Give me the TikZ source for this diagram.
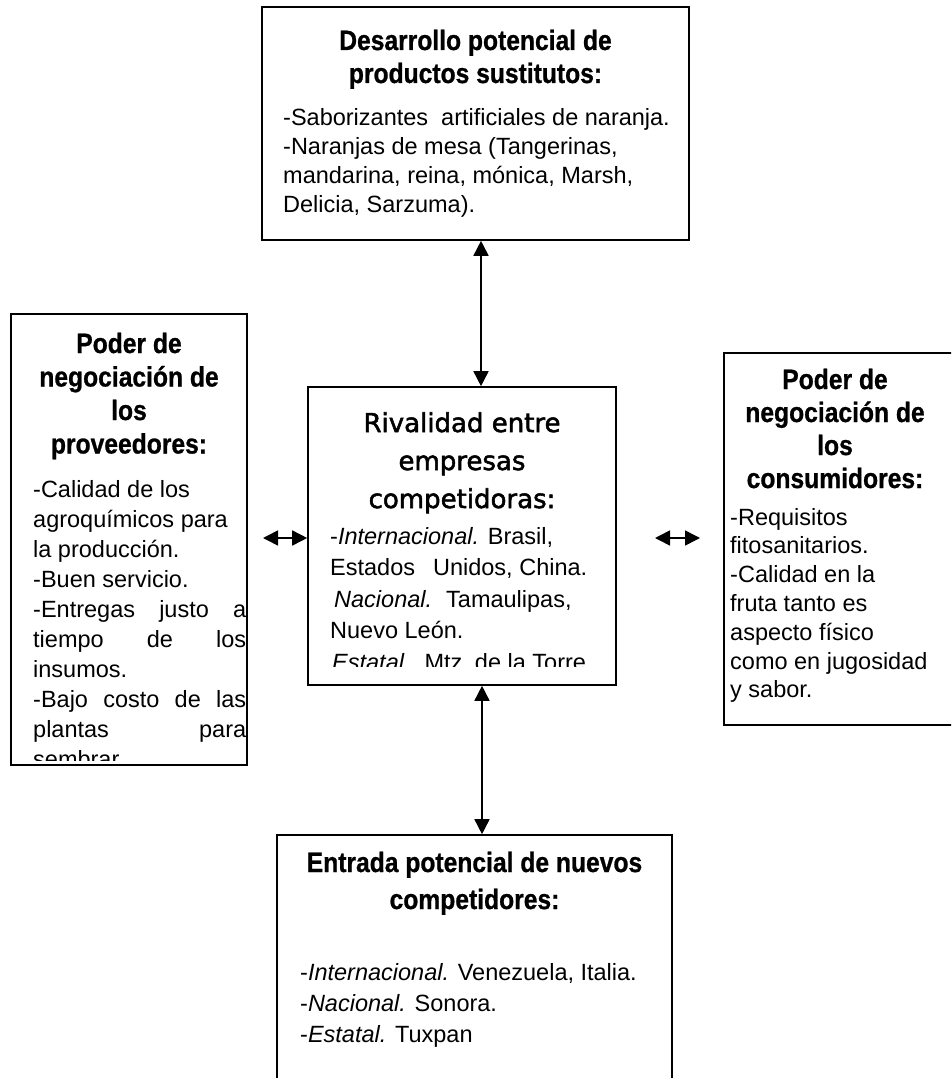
\documentclass[tikz,border=0pt]{standalone}
\usepackage{fontspec}
\setmainfont{Liberation Sans}
\newfontfamily\midfont[FakeBold=2]{DejaVu Sans}
\newfontfamily\titlefont[FakeStretch=0.88, FakeBold=0.8, UprightFont={* Bold}]{Liberation Sans}
\usetikzlibrary{arrows.meta}
\tikzset{
  frame/.style={draw, line width=1.6pt, inner sep=0pt, fill=white},
  arr/.style={line width=1.6pt, {Triangle[length=15pt,width=15pt]}-{Triangle[length=15pt,width=15pt]}},
  txt/.style={inner sep=0pt},
}
\newcommand{\boxtitle}[3]{\parbox[t]{#1}{\centering\titlefont\fontsize{28}{#2}\selectfont #3}}
\newcommand{\bodytext}[3]{\parbox[t]{#1}{\raggedright\fontsize{23.5}{#2}\selectfont #3}}
\begin{document}
\begin{tikzpicture}[x=1pt,y=-1pt]
\useasboundingbox (0,0) rectangle (951,1078);
\clip (0,0) rectangle (951,1078);
% frames
\node[frame, minimum width=427pt, minimum height=233pt] (top) at (475.5,123.5) {};
\node[frame, minimum width=236pt, minimum height=451pt] (lft) at (129,539.5) {};
\node[frame, minimum width=308pt, minimum height=298pt] (mid) at (462,536) {};
\node[frame, minimum width=236pt, minimum height=372pt] (rgt) at (842,539) {};
\node[frame, minimum width=395pt, minimum height=255pt] (bot) at (474.5,962.5) {};
% top box text
\node[txt, anchor=base] (toptitle) at (475.5,50) {\boxtitle{420pt}{33}{Desarrollo potencial de\\productos sustitutos:}};
\node[txt, anchor=base west] (topbody) at (283,126) {\bodytext{400pt}{29}{-Saborizantes\ \ artificiales de naranja.\\-Naranjas de mesa (Tangerinas,\\mandarina, reina, mónica, Marsh,\\Delicia, Sarzuma).}};
% left box text
\node[txt, anchor=base] (lefttitle) at (129,353) {\boxtitle{230pt}{33.5}{Poder de\\negociación de\\los\\proveedores:}};
\begin{scope}
\clip (11,300) rectangle (247,760);
\node[txt, anchor=base west] (leftbody) at (33,497) {\bodytext{213pt}{30}{-Calidad de los\\agroquímicos para\\la producción.\\-Buen servicio.\\\makebox[\linewidth][s]{-Entregas justo a}\\\makebox[\linewidth][s]{tiempo de los}\\insumos.\\\makebox[\linewidth][s]{-Bajo costo de las}\\\makebox[\linewidth][s]{plantas para}\\sembrar.}};
\end{scope}
% center box text
\node[txt, anchor=base] (midtitle) at (462,432) {\parbox[t]{300pt}{\centering\midfont\fontsize{26}{38}\selectfont Rivalidad entre\\empresas\\competidoras:}};
\begin{scope}
\clip (308,387) rectangle (616,666);
\node[txt, anchor=base west] (midbody) at (330,544) {\bodytext{270pt}{31.5}{-\textit{Internacional.} Brasil,\\Estados\hspace{18pt}Unidos, China.\\\hspace*{4pt}\textit{Nacional.}\hspace{14pt}Tamaulipas,\\Nuevo León.\\\hspace*{2pt}\textit{Estatal.}\hspace{14pt}Mtz.\hspace{6pt}de la Torre}};
\end{scope}
% right box text
\node[txt, anchor=base] (righttitle) at (835,389) {\boxtitle{220pt}{33}{Poder de\\negociación de\\los\\consumidores:}};
\node[txt, anchor=base west] (rightbody) at (730,525) {\bodytext{215pt}{28.8}{-Requisitos\\fitosanitarios.\\-Calidad en la\\fruta tanto es\\aspecto físico\\como en jugosidad\\y sabor.}};
% bottom box text
\node[txt, anchor=base] (bottitle) at (474.5,872) {\boxtitle{390pt}{37}{Entrada potencial de nuevos\\competidores:}};
\node[txt, anchor=base west] (botbody) at (300,980) {\bodytext{360pt}{31}{-\textit{Internacional.} Venezuela, Italia.\\-\textit{Nacional.} Sonora.\\-\textit{Estatal.} Tuxpan}};
% connectors
\coordinate (vx1) at (481,0);
\coordinate (vx2) at (482,0);
\draw[arr] (top.south -| vx1) -- (mid.north -| vx1);
\draw[arr] (mid.south -| vx2) -- (bot.north -| vx2);
\coordinate (la) at (263,538);
\draw[arr] (la) -- (la -| mid.west);
\coordinate (ra1) at (655,538);
\coordinate (ra2) at (700,538);
\draw[arr] (ra1) -- (ra2);
\end{tikzpicture}
\end{document}
